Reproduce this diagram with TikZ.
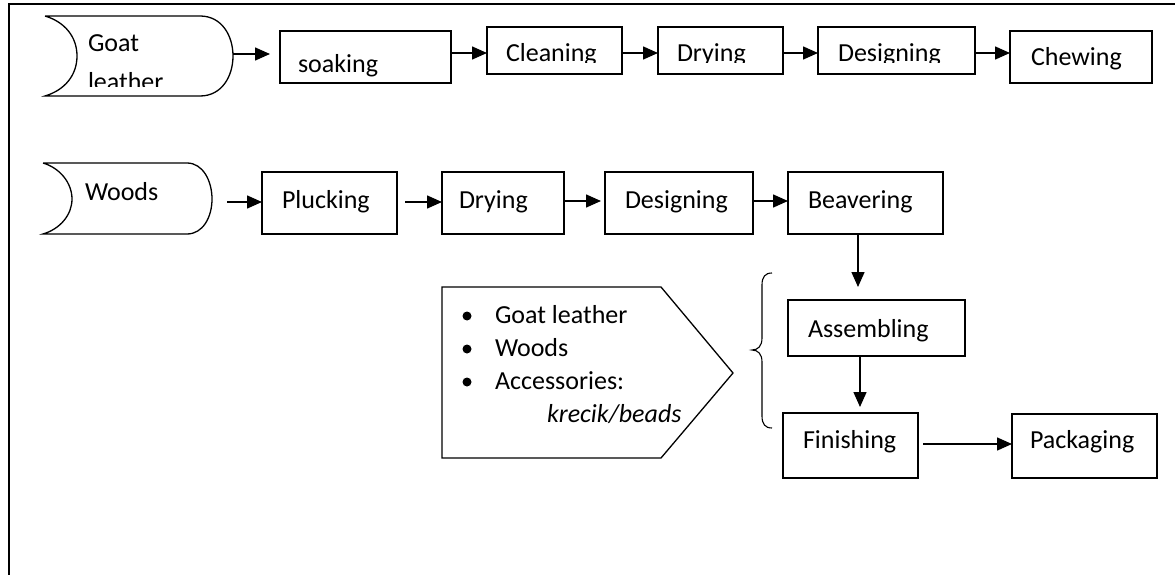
\documentclass[tikz,border=0pt]{standalone}
\usepackage{fontspec}
\setmainfont{Carlito}
\usetikzlibrary{arrows.meta}
\newcommand\fs{\fontsize{26}{31}\selectfont}
\tikzset{
  box/.style={draw, line width=1.3pt, inner sep=0pt, outer sep=0pt, anchor=north west},
  lbl/.style={anchor=base west, inner sep=0pt, outer sep=0pt, font=\fs},
  arr/.style={-{Triangle[length=15pt,width=13pt]}, line width=1.5pt},
  shp/.style={line width=1.3pt},
}
\begin{document}
\begin{tikzpicture}[x=1pt,y=-1pt]
\useasboundingbox (0,0) rectangle (1175,575);
% frame
\draw[line width=1.6pt] (1175,4) -- (9,4) -- (9,575);

% ---- row 1 ----
\draw[shp] (45,16) -- (200,16) .. controls (222,16) and (233,36) .. (233,56)
  .. controls (233,76) and (222,96) .. (200,96) -- (45,96)
  .. controls (65,90) and (77,75) .. (77,56) .. controls (77,37) and (65,22) .. (45,16);
\coordinate (goatE) at (233,54);
\begin{scope}
  \clip (0,0) rectangle (1175,87);
  \node[lbl] (goatT1) at (88,52) {Goat};
  \node[lbl] (goatT2) at (88,91) {leather};
\end{scope}

\node[box, minimum width=171pt, minimum height=52pt] (soak) at (280,31) {};
\node[box, minimum width=135pt, minimum height=47pt] (clean) at (487,27) {};
\node[box, minimum width=125pt, minimum height=47pt] (dry1) at (658,27) {};
\node[box, minimum width=157pt, minimum height=47pt] (des1) at (818,27) {};
\node[box, minimum width=142pt, minimum height=52pt] (chew) at (1010,31) {};

\begin{scope}\clip (0,0) rectangle (1175,77);
  \node[lbl] (soakT) at (298,73) {soaking};
\end{scope}
\begin{scope}\clip (0,0) rectangle (1175,63);
  \node[lbl] (cleanT) at (506,62) {Cleaning};
  \node[lbl] (dry1T) at (677,62) {Drying};
  \node[lbl] (des1T) at (838,62) {Designing};
\end{scope}
\node[lbl] (chewT) at (1031,66) {Chewing};

\draw[arr, shorten >=10pt] (goatE) -- (soak.west |- goatE);
\draw[arr] ([yshift=-2.5pt]clean.west -| soak.east) -- ([yshift=-2.5pt]clean.west);
\draw[arr] ([yshift=-2.5pt]clean.east) -- ([yshift=-2.5pt]dry1.west);
\draw[arr] ([yshift=-2.5pt]dry1.east) -- ([yshift=-2.5pt]des1.west);
\draw[arr] ([yshift=-2.5pt]des1.east) -- ([yshift=-2.5pt]des1.east -| chew.west);

% ---- row 2 ----
\draw[shp] (43,163) -- (187,163) .. controls (203,163) and (212,181) .. (212,199)
  .. controls (212,217) and (203,234) .. (187,234) -- (43,234)
  .. controls (60,229) and (72,215) .. (72,199) .. controls (72,183) and (60,168) .. (43,163);
\coordinate (woodsE) at (212,202);
\node[lbl] (woodsT) at (85,200) {Woods};

\node[box, minimum width=135pt, minimum height=62pt] (pluck) at (262,172) {};
\node[box, minimum width=122pt, minimum height=62pt] (dry2) at (442,172) {};
\node[box, minimum width=148pt, minimum height=62pt] (des2) at (605,172) {};
\node[box, minimum width=155pt, minimum height=62pt] (beav) at (788,172) {};

\node[lbl] (pluckT) at (282,208) {Plucking};
\node[lbl] (dry2T) at (459,208) {Drying};
\node[lbl] (des2T) at (625,208) {Designing};
\node[lbl] (beavT) at (808,208) {Beavering};

\draw[arr, shorten <=15pt] (woodsE) -- (pluck.west |- woodsE);
\draw[arr, shorten <=8pt] ([yshift=1pt]pluck.east) -- ([yshift=1pt]dry2.west);
\draw[arr, shorten >=4pt] ([yshift=2pt]dry2.east) -- ([yshift=2pt]des2.west);
\draw[arr] ([yshift=2pt]des2.east) -- ([yshift=2pt]beav.west);

% ---- lower part ----
\node[box, minimum width=177pt, minimum height=56pt] (asm) at (788,300) {};
\node[box, minimum width=135pt, minimum height=65pt] (fin) at (783,413) {};
\node[box, minimum width=145pt, minimum height=64pt] (pack) at (1012,414) {};

\node[lbl] (asmT) at (808,337) {Assembling};
\node[lbl] (finT) at (803,448) {Finishing};
\node[lbl] (packT) at (1030,448) {Packaging};

\draw[arr, shorten >=13pt] ([xshift=-7.5pt]beav.south) -- ([xshift=-7.5pt]beav.south |- asm.north);
\draw[arr, shorten >=6pt] (asm.south -| 860,0) -- (fin.north -| 860,0);
\draw[arr, shorten <=5pt] ([yshift=1.5pt]fin.east) -- ([yshift=1.5pt]fin.east -| pack.west);

% brace
\draw[line width=1.1pt] (772,273) .. controls (765,273) and (762,277) .. (762,285) -- (762,338)
  .. controls (762,346) and (758,350) .. (752,350)
  .. controls (758,350) and (762,354) .. (762,362) -- (762,416)
  .. controls (762,424) and (765,428) .. (772,428);

% pentagon with list
\draw[shp] (442,287) -- (661,287) -- (733,373) -- (661,458) -- (442,458) -- cycle;
\fill (467,316) circle (4.5pt);
\fill (467,349) circle (4.5pt);
\fill (467,382) circle (4.5pt);
\node[lbl] (l1) at (495,323) {Goat leather};
\node[lbl] (l2) at (495,356) {Woods};
\node[lbl] (l3) at (495,389) {Accessories:};
\node[lbl] (l4) at (547,422) {\itshape krecik/beads};
\end{tikzpicture}
\end{document}
